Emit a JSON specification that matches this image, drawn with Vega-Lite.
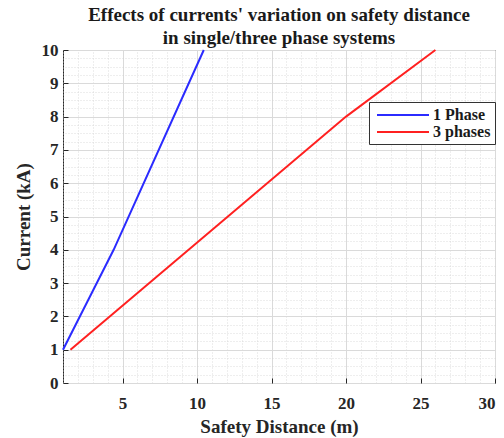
{
  "$schema": "https://vega.github.io/schema/vega-lite/v6.json",
  "autosize": "none",
  "width": 432,
  "height": 333,
  "padding": {"left": 63, "top": 50, "right": 9, "bottom": 55},
  "background": "white",
  "config": {
    "view": {"stroke": "#262626", "strokeWidth": 1},
    "font": "Liberation Serif"
  },
  "title": {
    "text": ["Effects of currents' variation on safety distance", "in single/three phase systems"],
    "font": "Liberation Serif",
    "fontSize": 19,
    "fontWeight": "bold",
    "color": "#1a1a1a",
    "anchor": "middle",
    "frame": "group",
    "offset": -7,
    "lineHeight": 23
  },
  "data": {
    "values": [
      {"series": "1 Phase", "distance": 1, "current": 1},
      {"series": "1 Phase", "distance": 4.4, "current": 4},
      {"series": "1 Phase", "distance": 10.45, "current": 10},
      {"series": "3 phases", "distance": 1.5, "current": 1},
      {"series": "3 phases", "distance": 20, "current": 8},
      {"series": "3 phases", "distance": 26, "current": 10}
    ]
  },
  "layer": [
    {
      "mark": {"type": "point", "opacity": 0},
      "encoding": {
        "x": {
          "field": "distance", "type": "quantitative",
          "scale": {"domain": [1, 30], "nice": false, "zero": false},
          "axis": {
            "orient": "top", "values": [1,2,3,4,6,7,8,9,11,12,13,14,16,17,18,19,21,22,23,24,26,27,28,29],
            "grid": true, "gridColor": "#cfcfcf", "gridDash": [1, 2], "gridWidth": 0.7,
            "labels": false, "ticks": false, "domain": false, "title": null
          }
        },
        "y": {
          "field": "current", "type": "quantitative",
          "scale": {"domain": [0, 10], "nice": false},
          "axis": {
            "orient": "right",
            "values": [0.25,0.5,0.75,1.25,1.5,1.75,2.25,2.5,2.75,3.25,3.5,3.75,4.25,4.5,4.75,5.25,5.5,5.75,6.25,6.5,6.75,7.25,7.5,7.75,8.25,8.5,8.75,9.25,9.5,9.75],
            "grid": true, "gridColor": "#cfcfcf", "gridDash": [1, 2], "gridWidth": 0.7,
            "labels": false, "ticks": false, "domain": false, "title": null
          }
        }
      }
    },
    {
      "mark": {"type": "line", "strokeWidth": 2},
      "encoding": {
        "x": {
          "field": "distance", "type": "quantitative",
          "axis": {
            "orient": "bottom", "values": [5, 10, 15, 20, 25, 30],
            "grid": true, "gridColor": "#dadada", "gridWidth": 1,
            "domain": false, "ticks": true, "tickSize": -5, "tickColor": "#262626",
            "labelFont": "Liberation Serif", "labelFontSize": 17, "labelFontWeight": "bold",
            "labelColor": "#262626", "labelPadding": 17,
            "title": "Safety Distance (m)", "titleFont": "Liberation Serif",
            "titleFontSize": 19, "titleFontWeight": "bold", "titleColor": "#262626",
            "titlePadding": 6
          }
        },
        "y": {
          "field": "current", "type": "quantitative",
          "axis": {
            "orient": "left", "values": [0,1,2,3,4,5,6,7,8,9,10],
            "grid": true, "gridColor": "#dadada", "gridWidth": 1,
            "domain": false, "ticks": true, "tickSize": -5, "tickColor": "#262626",
            "labelFont": "Liberation Serif", "labelFontSize": 17, "labelFontWeight": "bold",
            "labelColor": "#262626", "labelPadding": 10,
            "title": "Current (kA)", "titleFont": "Liberation Serif",
            "titleFontSize": 19, "titleFontWeight": "bold", "titleColor": "#262626",
            "titlePadding": 8
          }
        },
        "color": {
          "field": "series", "type": "nominal",
          "scale": {"domain": ["1 Phase", "3 phases"], "range": ["#2b2bff", "#ff2020"]},
          "legend": {
            "orient": "none", "legendX": 306, "legendY": 52,
            "title": null, "symbolType": "M-3.25,0L3.25,0", "symbolSize": 256, "symbolStrokeWidth": 2,
            "symbolOffset": 21,
            "labelFont": "Liberation Serif", "labelFontSize": 16, "labelFontWeight": "bold",
            "labelColor": "#1a1a1a", "strokeColor": "#333333", "fillColor": "white",
            "padding": 4, "rowPadding": 0, "labelOffset": 21
          }
        }
      }
    }
  ],
  "resolve": {"axis": {"x": "independent", "y": "independent"}}
}
